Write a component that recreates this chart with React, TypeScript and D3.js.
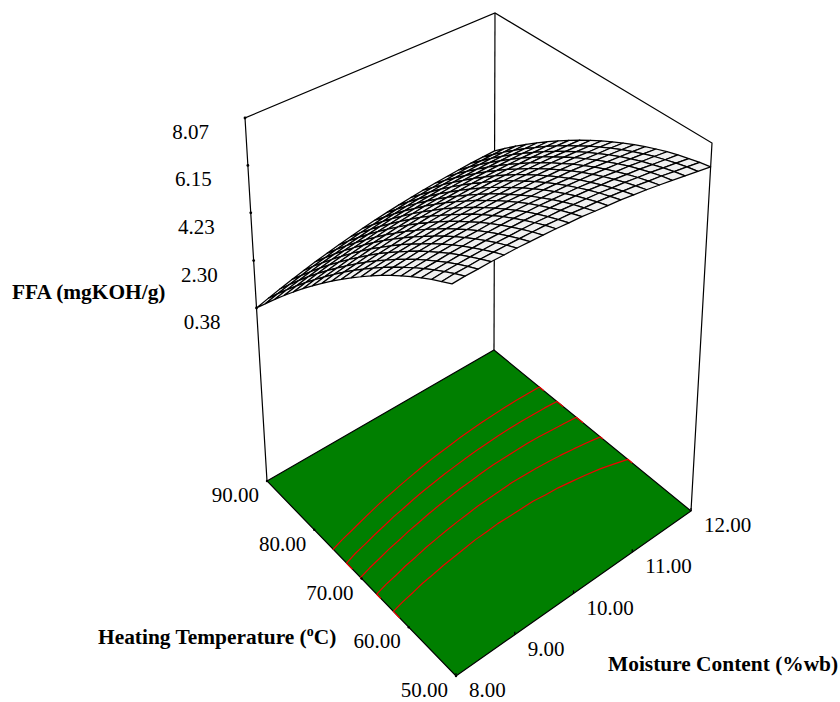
import React from "react";
import * as d3 from "d3";

const moistureTicks = [8, 9, 10, 11, 12];
const temperatureTicks = [90, 80, 70, 60, 50];
const ffaTicks = [0.38, 2.3, 4.23, 6.15, 8.07];
const contourLevels = [3.83, 4.42, 5.01, 5.64, 6.24];

// rows: temperature 90 -> 50 in steps of 2, columns: moisture 8 -> 12 in steps of 0.2
const ffaGrid = [
  [0.38, 0.53, 0.67, 0.81, 0.94, 1.06, 1.17, 1.28, 1.38, 1.48, 1.57, 1.65, 1.72, 1.79, 1.85, 1.9, 1.94, 1.98, 2.02, 2.04, 2.06],
  [0.92, 1.07, 1.2, 1.33, 1.46, 1.57, 1.68, 1.78, 1.88, 1.96, 2.04, 2.12, 2.19, 2.25, 2.3, 2.35, 2.39, 2.42, 2.44, 2.46, 2.48],
  [1.45, 1.59, 1.72, 1.84, 1.96, 2.07, 2.17, 2.26, 2.35, 2.43, 2.51, 2.58, 2.64, 2.69, 2.74, 2.78, 2.81, 2.84, 2.86, 2.87, 2.88],
  [1.96, 2.09, 2.22, 2.33, 2.44, 2.55, 2.64, 2.73, 2.81, 2.89, 2.96, 3.02, 3.07, 3.12, 3.16, 3.19, 3.22, 3.24, 3.25, 3.26, 3.26],
  [2.45, 2.58, 2.7, 2.81, 2.91, 3.01, 3.09, 3.18, 3.25, 3.32, 3.38, 3.44, 3.49, 3.53, 3.56, 3.59, 3.61, 3.62, 3.63, 3.63, 3.62],
  [2.93, 3.05, 3.16, 3.26, 3.36, 3.45, 3.53, 3.61, 3.68, 3.74, 3.8, 3.84, 3.88, 3.92, 3.95, 3.97, 3.98, 3.99, 3.99, 3.98, 3.97],
  [3.39, 3.5, 3.6, 3.7, 3.79, 3.88, 3.95, 4.02, 4.08, 4.14, 4.19, 4.23, 4.27, 4.3, 4.31, 4.33, 4.34, 4.34, 4.33, 4.32, 4.3],
  [3.83, 3.94, 4.03, 4.12, 4.21, 4.29, 4.35, 4.42, 4.48, 4.52, 4.57, 4.6, 4.63, 4.65, 4.67, 4.68, 4.67, 4.67, 4.66, 4.64, 4.61],
  [4.25, 4.36, 4.44, 4.53, 4.6, 4.68, 4.74, 4.8, 4.85, 4.89, 4.93, 4.95, 4.98, 5.0, 5.0, 5.0, 5.0, 4.99, 4.96, 4.94, 4.91],
  [4.66, 4.76, 4.84, 4.92, 4.98, 5.05, 5.1, 5.16, 5.2, 5.24, 5.27, 5.29, 5.31, 5.32, 5.32, 5.31, 5.3, 5.28, 5.25, 5.22, 5.19],
  [5.05, 5.14, 5.21, 5.29, 5.35, 5.41, 5.46, 5.5, 5.54, 5.57, 5.6, 5.61, 5.62, 5.63, 5.62, 5.61, 5.59, 5.56, 5.53, 5.49, 5.45],
  [5.42, 5.51, 5.57, 5.64, 5.69, 5.75, 5.79, 5.83, 5.86, 5.88, 5.9, 5.91, 5.91, 5.91, 5.9, 5.88, 5.85, 5.83, 5.78, 5.74, 5.69],
  [5.78, 5.86, 5.92, 5.98, 6.02, 6.07, 6.11, 6.14, 6.17, 6.18, 6.2, 6.19, 6.19, 6.19, 6.16, 6.14, 6.11, 6.07, 6.02, 5.98, 5.92],
  [6.12, 6.19, 6.24, 6.3, 6.34, 6.38, 6.4, 6.43, 6.46, 6.46, 6.47, 6.46, 6.45, 6.44, 6.41, 6.39, 6.34, 6.3, 6.25, 6.19, 6.13],
  [6.44, 6.5, 6.55, 6.6, 6.63, 6.67, 6.69, 6.71, 6.72, 6.72, 6.73, 6.71, 6.7, 6.68, 6.64, 6.61, 6.56, 6.51, 6.45, 6.39, 6.32],
  [6.74, 6.8, 6.84, 6.88, 6.91, 6.94, 6.95, 6.97, 6.98, 6.97, 6.97, 6.94, 6.92, 6.9, 6.86, 6.82, 6.76, 6.71, 6.64, 6.57, 6.5],
  [7.03, 7.08, 7.11, 7.15, 7.17, 7.19, 7.2, 7.21, 7.21, 7.2, 7.19, 7.16, 7.13, 7.1, 7.05, 7.01, 6.94, 6.89, 6.81, 6.74, 6.66],
  [7.3, 7.34, 7.37, 7.4, 7.41, 7.43, 7.43, 7.43, 7.43, 7.41, 7.39, 7.36, 7.33, 7.29, 7.23, 7.18, 7.11, 7.05, 6.96, 6.88, 6.8],
  [7.55, 7.59, 7.61, 7.63, 7.64, 7.65, 7.64, 7.64, 7.63, 7.6, 7.58, 7.54, 7.5, 7.46, 7.39, 7.34, 7.26, 7.19, 7.1, 7.01, 6.92],
  [7.78, 7.82, 7.83, 7.85, 7.85, 7.85, 7.84, 7.83, 7.82, 7.78, 7.75, 7.7, 7.66, 7.61, 7.54, 7.48, 7.39, 7.32, 7.22, 7.13, 7.03],
  [8.0, 8.03, 8.03, 8.05, 8.04, 8.04, 8.02, 8.0, 7.98, 7.94, 7.91, 7.85, 7.8, 7.75, 7.67, 7.6, 7.51, 7.42, 7.32, 7.22, 7.12],
];

const width = 840;
const height = 702;
const serif = "'Liberation Serif', 'Times New Roman', serif";

// box corners on screen, [u, v] = (moisture, temperature) fractions
const floorCorners = { b: [267, 481], c: [494, 350], d: [691, 511], a: [456, 676] };
const topCorners = { b: [245, 118], c: [495, 13], d: [712, 143], a: [452, 282] };

const uScale = d3.scaleLinear().domain([8, 12]).range([0, 1]);
const vScale = d3.scaleLinear().domain([90, 50]).range([0, 1]);
const wScale = d3.scaleLinear().domain([0.38, 8.07]).range([0.4766, 1]);
const colScale = d3.scaleLinear().domain([0, 20]).range([0, 1]);
const rowScale = d3.scaleLinear().domain([0, 20]).range([0, 1]);

const bilinear = (q: any, u: number, v: number) =>
  [0, 1].map(
    (k) =>
      q.b[k] * (1 - u) * (1 - v) + q.c[k] * u * (1 - v) + q.d[k] * u * v + q.a[k] * (1 - u) * v
  );

const project = (u: number, v: number, w: number) => {
  const lo = bilinear(floorCorners, u, v);
  const hi = bilinear(topCorners, u, v);
  return [lo[0] + (hi[0] - lo[0]) * w, lo[1] + (hi[1] - lo[1]) * w];
};

const line = d3.line();

// surface cells, painted from the back corner to the front one
const buildCells = () => {
  const cells: { key: number; d: string }[] = [];
  for (let i = 0; i < 20; i++) {
    for (let j = 0; j < 20; j++) {
      const pt = (r: number, c: number) =>
        project(colScale(c), rowScale(r), wScale(ffaGrid[r][c]));
      cells.push({
        key: i - j,
        d: line([pt(i, j), pt(i, j + 1), pt(i + 1, j + 1), pt(i + 1, j)]) + "Z",
      });
    }
  }
  return cells.sort((a, b) => a.key - b.key);
};

// contour lines on the floor, border runs of the rings are dropped
const buildContours = () => {
  const n = ffaGrid.length;
  const flat = ffaGrid.flat();
  const sets = d3.contours().size([n, n]).thresholds(contourLevels)(flat);
  const onBorder = (p: number[]) => p[0] <= 0 || p[0] >= n || p[1] <= 0 || p[1] >= n;
  const toFloor = (p: number[]) => {
    const c = Math.min(20, Math.max(0, p[0] - 0.5));
    const r = Math.min(20, Math.max(0, p[1] - 0.5));
    return bilinear(floorCorners, colScale(c), rowScale(r));
  };
  return sets.map((set) => {
    let d = "";
    set.coordinates.forEach((poly) =>
      poly.forEach((ring) => {
        for (let k = 0; k < ring.length - 1; k++) {
          if (onBorder(ring[k]) && onBorder(ring[k + 1])) continue;
          d += line([toFloor(ring[k]), toFloor(ring[k + 1])]);
        }
      })
    );
    return d;
  });
};

const App = () => {
  const cells = buildCells();
  const contourPaths = buildContours();
  const f = floorCorners;
  const t = topCorners;
  const tickText = { fontFamily: serif, fontSize: 21, fill: "#000" };
  const titleText = { fontFamily: serif, fontSize: 21.4, fontWeight: 700, fill: "#000" };

  return (
    <svg
      width={width}
      height={height}
      style={{ position: "absolute", left: 0, top: 0, background: "#fff" }}
    >
      {/* back box lines */}
      <g fill="none" stroke="#000" strokeWidth={1.2}>
        <path d={line([f.b as any, t.b as any, t.c as any, t.d as any, f.d as any]) ?? ""} />
        <path d={line([f.c as any, t.c as any]) ?? ""} />
      </g>

      {/* floor */}
      <path
        d={line([f.b, f.c, f.d, f.a] as any) + "Z"}
        fill="#007f00"
        stroke="#000"
        strokeWidth={1.2}
      />
      {contourPaths.map((d, i) => (
        <path
          key={i}
          d={d}
          fill="none"
          stroke="#f00000"
          strokeWidth={1.2}
          strokeLinecap="round"
        />
      ))}

      {/* surface */}
      <g stroke="#000" strokeWidth={1.25} fill="#f1f1f1" strokeLinejoin="round">
        {cells.map((c, i) => (
          <path key={i} d={c.d} />
        ))}
      </g>

      {/* FFA axis */}
      {ffaTicks.map((z) => {
        const [x, y] = project(0, 0, wScale(z));
        return (
          <g key={z}>
            <circle cx={x} cy={y} r={1.4} fill="#000" />
            <text x={x - 36} y={y + 21} textAnchor="end" {...tickText}>
              {z.toFixed(2)}
            </text>
          </g>
        );
      })}

      {/* temperature axis */}
      {temperatureTicks.map((v) => {
        const [x, y] = project(0, vScale(v), 0);
        return (
          <g key={v}>
            <circle cx={x} cy={y} r={1.2} fill="#000" />
            <text x={x - 8} y={y + 21} textAnchor="end" {...tickText}>
              {v.toFixed(2)}
            </text>
          </g>
        );
      })}

      {/* moisture axis */}
      {moistureTicks.map((m) => {
        const [x, y] = project(uScale(m), 1, 0);
        return (
          <g key={m}>
            <line x1={x} x2={x} y1={y} y2={y - 3} stroke="#000" strokeWidth={1.2} />
            <text x={x + 13} y={y + 21} {...tickText}>
              {m.toFixed(2)}
            </text>
          </g>
        );
      })}

      <text x={12} y={299} {...titleText}>
        FFA (mgKOH/g)
      </text>
      <text x={98} y={644} {...titleText}>
        Heating Temperature (
        <tspan dy={-8} fontSize={14}>
          o
        </tspan>
        <tspan dy={8}>C)</tspan>
      </text>
      <text x={608} y={671} {...titleText}>
        Moisture Content (%wb)
      </text>
    </svg>
  );
};

export default App;
